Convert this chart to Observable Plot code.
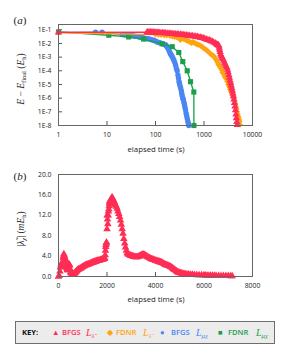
<!DOCTYPE html>
<html><head><meta charset="utf-8">
<script src="https://cdn.jsdelivr.net/npm/d3@7"></script>
<script src="https://cdn.jsdelivr.net/npm/@observablehq/plot@0.6"></script>
<style>
body{margin:0;background:#fff;}
#wrap{position:relative;width:293px;height:361px;overflow:hidden;font-family:"Open Sans",sans-serif;color:#222;}
.abs{position:absolute;white-space:nowrap;line-height:1;}
.m{font-family:"Liberation Serif",serif;font-style:italic;}
.r{font-family:"Liberation Serif",serif;}
sub{font-size:68%;vertical-align:-0.28em;line-height:0;}
.cen{transform:translate(-50%,-50%);}
.rot{transform:translate(-50%,-50%) rotate(-90deg);}
#legend{position:absolute;left:15px;top:321px;width:260px;height:23px;box-sizing:border-box;background:#ececec;border:1.5px solid #6e6e6e;}
#legend span{position:absolute;top:50%;transform:translateY(-50%);white-space:nowrap;line-height:1;}
.lt{font-size:7.6px;font-weight:600;}
.sym{font-size:7.5px;}
.lm{font-family:"Liberation Serif",serif;font-style:italic;font-size:10px;}
</style></head>
<body><div id="wrap"></div>
<script>
// ---------- Panel (a): E - E_final (Eh) vs elapsed time (s), log-log ----------
const xTicksA = [1, 10, 100, 1000, 10000];
const yTicksA = [1e-1, 1e-2, 1e-3, 1e-4, 1e-5, 1e-6, 1e-7, 1e-8];

// BFGS L_lambda (red triangles): [time, error]
const redPts = [[1,0.065],[67,0.066],[70,0.065],[73,0.066],[76,0.065],[80,0.066],[84,0.064],[88,0.065],[92,0.064],[97,0.063],[102,0.063],[108,0.062],[115,0.061],[122,0.06],[130,0.06],[140,0.059],[150,0.058],[162,0.057],[175,0.055],[190,0.054],[205,0.052],[220,0.051],[240,0.05],[260,0.048],[280,0.047],[300,0.046],[325,0.045],[350,0.044],[375,0.042],[400,0.041],[430,0.04],[465,0.038],[500,0.037],[540,0.036],[580,0.035],[625,0.033],[675,0.032],[725,0.031],[780,0.029],[840,0.027],[900,0.026],[970,0.024],[1040,0.022],[1120,0.02],[1200,0.018],[1290,0.017],[1380,0.015],[1480,0.014],[1590,0.012],[1700,0.0105],[1800,0.009],[1900,0.008],[1970,0.0074],[2020,0.0069],[2060,0.005],[2100,0.0035],[2150,0.0024],[2200,0.0016],[2280,0.0012],[2370,0.00093],[2450,0.00075],[2550,0.00055],[2650,0.0004],[2750,0.0003],[2850,0.00022],[2950,0.00017],[3050,0.00012],[3150,0.00008],[3250,0.00005],[3350,0.000032],[3450,0.00002],[3550,0.000013],[3650,0.0000085],[3750,0.0000055],[3850,0.0000035],[3950,0.0000022],[4050,0.0000014],[4150,8e-7],[4250,4.5e-7],[4350,2.5e-7],[4450,1.3e-7],[4550,6.5e-8],[4650,3.5e-8],[4750,1.8e-8],[4830,1.1e-8]];

// FDNR L_lambda (orange diamonds)
const orangePts = [[1,0.06],[100,0.045],[115,0.044],[130,0.042],[150,0.04],[170,0.038],[200,0.035],[225,0.033],[250,0.03],[275,0.028],[300,0.025],[327,0.018],[355,0.024],[380,0.021],[400,0.02],[430,0.017],[450,0.016],[480,0.015],[500,0.014],[530,0.012],[560,0.011],[590,0.013],[620,0.012],[660,0.01],[700,0.009],[740,0.0085],[780,0.008],[847,0.0069],[900,0.006],[950,0.005],[1000,0.0045],[1060,0.0038],[1110,0.0034],[1160,0.003],[1230,0.0025],[1300,0.002],[1370,0.0017],[1450,0.0015],[1520,0.0013],[1590,0.0012],[1670,0.0009],[1750,0.0007],[1830,0.00055],[1900,0.0004],[1980,0.0003],[2050,0.00025],[2120,0.0002],[2190,0.00017],[2300,0.00012],[2400,0.00008],[2520,0.00006],[2650,0.00004],[2800,0.000028],[3000,0.000017],[3150,0.00001],[3300,0.000007],[3450,0.0000045],[3600,0.0000032],[3750,0.0000022],[3900,0.0000016],[4000,0.0000013],[4120,0.000001],[4250,6.5e-7],[4400,4e-7],[4550,2.5e-7],[4700,1.6e-7],[4820,1e-7],[4950,7e-8],[5080,4.5e-8],[5200,3.4e-8],[5300,2.5e-8],[5400,2e-8],[5500,1.2e-8]];

// BFGS L_mu_chi (blue circles)
const bluePts = [[1,0.065],[5.8,0.066],[7.9,0.066],[20.5,0.045],[22,0.044],[24,0.042],[26,0.041],[28,0.04],[30,0.039],[33,0.037],[36,0.035],[40,0.033],[44,0.031],[48,0.028],[52,0.027],[57,0.025],[62,0.023],[68,0.022],[74,0.021],[79,0.02],[85,0.018],[92,0.017],[100,0.015],[108,0.013],[116,0.012],[125,0.011],[135,0.01],[145,0.009],[153,0.0085],[161,0.008],[168,0.0065],[175,0.0055],[182,0.0042],[190,0.003],[197,0.0022],[205,0.0017],[212,0.0014],[220,0.0011],[230,0.0008],[240,0.0006],[250,0.0004],[260,0.00026],[270,0.00015],[280,0.0001],[290,0.00005],[298,0.00003],[305,0.000017],[312,0.000012],[320,0.000008],[330,0.0000055],[340,0.0000035],[348,0.0000022],[355,0.0000015],[365,0.000001],[375,8e-7],[385,5e-7],[395,3.5e-7],[405,2.2e-7],[416,1.4e-7],[428,8e-8],[440,5e-8],[452,3.2e-8],[465,2e-8],[476,1.4e-8],[486,1e-8]];

// FDNR L_mu_chi (green squares)
const greenPts = [[1,0.07],[10.9,0.04],[28,0.03],[57,0.021],[137,0.0095],[221,0.0058],[302,0.0022],[365,0.00047],[451,0.0001],[527,0.000016],[617,0.0000028],[620,1e-8]];

// ---------- Panel (b): |lambda_chi| (mEh) vs elapsed time (s) ----------
const xTicksB = [0, 2000, 4000, 6000, 8000];
const yTicksB = [0, 4, 8, 12, 16, 20];
const lamPts = [[0,0],[30,0.2],[60,1.0],[82,1.8],[100,2.2],[120,2.6],[140,2.0],[160,2.4],[190,3.6],[205,4.0],[220,4.4],[240,4.1],[255,3.9],[270,3.5],[290,3.1],[310,2.5],[330,2.0],[345,1.7],[357,1.5],[375,1.3],[390,1.2],[405,1.8],[426,2.5],[445,2.3],[460,2.2],[478,1.5],[495,0.8],[520,0.7],[540,0.6],[560,0.55],[580,0.5],[605,0.45],[632,0.4],[660,0.55],[680,0.7],[700,0.8],[720,0.9],[745,1.05],[770,1.2],[795,1.3],[820,1.4],[850,1.45],[880,1.5],[910,1.6],[940,1.7],[970,1.8],[1000,1.9],[1045,2.0],[1070,2.1],[1100,2.2],[1130,2.25],[1160,2.3],[1190,2.35],[1220,2.4],[1250,2.45],[1280,2.5],[1320,2.6],[1350,2.65],[1380,2.7],[1410,2.75],[1440,2.8],[1470,2.85],[1500,2.9],[1530,2.95],[1560,3.0],[1595,3.1],[1630,3.05],[1663,3.1],[1690,3.15],[1720,3.2],[1750,3.25],[1780,3.3],[1810,3.3],[1830,3.35],[1850,3.4],[1870,3.45],[1890,3.5],[1910,3.6],[1925,4.2],[1938,5.1],[1950,5.8],[1960,6.2],[1970,6.5],[1980,6.7],[2000,9.3],[2007,12.0],[2020,11.2],[2034,10.3],[2050,12.0],[2062,12.8],[2075,13.2],[2090,13.8],[2100,14.3],[2110,14.6],[2120,14.8],[2130,14.9],[2144,14.9],[2157,15.0],[2170,15.1],[2180,15.2],[2190,15.3],[2200,15.4],[2214,15.5],[2227,15.3],[2240,15.2],[2255,15.0],[2270,14.9],[2285,14.8],[2300,14.6],[2325,14.3],[2350,14.0],[2385,13.7],[2419,13.3],[2450,12.8],[2487,12.3],[2520,11.7],[2557,11.0],[2590,10.2],[2625,9.3],[2660,8.4],[2694,7.4],[2730,6.5],[2763,5.7],[2800,5.1],[2832,4.6],[2865,4.4],[2900,4.3],[2935,4.2],[2970,4.1],[3005,4.05],[3038,4.0],[3070,3.95],[3100,3.9],[3140,3.85],[3180,3.8],[3210,3.8],[3244,3.8],[3280,3.85],[3313,3.9],[3345,4.0],[3380,4.1],[3415,4.2],[3450,4.3],[3485,4.3],[3519,4.3],[3550,4.25],[3588,4.1],[3620,4.0],[3650,3.9],[3690,3.8],[3725,3.7],[3760,3.6],[3800,3.5],[3835,3.4],[3870,3.35],[3900,3.3],[3931,3.25],[3965,3.2],[4000,3.1],[4040,3.05],[4080,3.0],[4115,2.95],[4150,2.9],[4180,2.85],[4206,2.8],[4240,2.75],[4276,2.7],[4310,2.6],[4350,2.5],[4385,2.4],[4420,2.3],[4450,2.25],[4480,2.2],[4515,2.15],[4550,2.1],[4585,2.0],[4619,1.9],[4660,1.8],[4700,1.65],[4730,1.5],[4760,1.4],[4790,1.3],[4825,1.2],[4860,1.05],[4900,0.9],[4930,0.8],[4960,0.75],[5000,0.7],[5031,0.65],[5070,0.6],[5100,0.55],[5150,0.5],[5200,0.47],[5250,0.45],[5300,0.42],[5370,0.4],[5443,0.38],[5520,0.35],[5600,0.33],[5700,0.3],[5800,0.28],[5900,0.26],[6000,0.25],[6070,0.22],[6130,0.2],[6200,0.2],[6268,0.18],[6350,0.17],[6430,0.16],[6500,0.15],[6600,0.14],[6700,0.13],[6800,0.12],[6900,0.12],[7000,0.11],[7093,0.1],[7162,0.1]];

const RED = "#ff2d55", ORANGE = "#ffa30f", BLUE = "#4a86f4", GREEN = "#1a9f4a";

const rows = P => P.map(([t, v]) => ({t, v}));
const red = rows(redPts), orange = rows(orangePts), blue = rows(bluePts), green = rows(greenPts);
const lam = rows(lamPts);

const font = {fontFamily: "'Open Sans', sans-serif", fontSize: "6.8px", color: "#222", background: "transparent", overflow: "visible"};

const chartA = Plot.plot({
  width: 293, height: 160,
  marginTop: 24, marginRight: 41, marginBottom: 35, marginLeft: 58,
  style: font,
  x: {type: "log", domain: [1, 10000], ticks: xTicksA, tickFormat: d => String(d), tickSize: 0, tickPadding: 7, label: null},
  y: {type: "log", domain: [1e-8, 0.244], ticks: yTicksA, tickFormat: d => "1E" + Math.round(Math.log10(d)), tickSize: 0, tickPadding: 7, label: null},
  marks: [
    Plot.tickX(xTicksA, {x: d => d, insetTop: 97, stroke: "#555"}),
    Plot.tickY(yTicksA, {y: d => d, insetRight: 190, stroke: "#555"}),
    Plot.line(blue, {x: "t", y: "v", stroke: BLUE, strokeWidth: 1.3}),
    Plot.dot(blue.slice(1), {x: "t", y: "v", symbol: "circle", fill: BLUE, r: 2.7}),
    Plot.line(green, {x: "t", y: "v", stroke: GREEN, strokeWidth: 1.3}),
    Plot.dot(green, {x: "t", y: "v", symbol: "square", fill: GREEN, r: 2.9}),
    Plot.line(orange, {x: "t", y: "v", stroke: ORANGE, strokeWidth: 1.3}),
    Plot.dot(orange, {x: "t", y: "v", symbol: "diamond2", fill: ORANGE, r: 2.7}),
    Plot.line(red, {x: "t", y: "v", stroke: RED, strokeWidth: 1.3}),
    Plot.dot(red, {x: "t", y: "v", symbol: "triangle", fill: RED, r: 2.7}),
    Plot.frame({stroke: "#666", strokeWidth: 1})
  ]
});

const chartB = Plot.plot({
  width: 293, height: 150,
  marginTop: 14, marginRight: 41, marginBottom: 34, marginLeft: 58,
  style: font,
  x: {domain: [0, 8000], ticks: xTicksB, tickFormat: d => String(d), tickSize: 0, tickPadding: 7, label: null},
  y: {domain: [0, 20], ticks: yTicksB, tickFormat: d => d.toFixed(1), tickSize: 0, tickPadding: 7, label: null},
  marks: [
    Plot.tickX(xTicksB, {x: d => d, insetTop: 98, stroke: "#555"}),
    Plot.dot(lam, {x: "t", y: "v", symbol: "triangle", fill: RED, r: 2.8}),
    Plot.frame({stroke: "#666", strokeWidth: 1})
  ]
});

const wrap = document.getElementById("wrap");
chartA.style.position = "absolute"; chartA.style.left = "0px"; chartA.style.top = "0px";
chartB.style.position = "absolute"; chartB.style.left = "0px"; chartB.style.top = "160px";
wrap.appendChild(chartA);
wrap.appendChild(chartB);

wrap.insertAdjacentHTML("beforeend", `
<div class="abs cen" style="left:20px;top:20px;font-size:11px;"><span class="r">(</span><span class="m">a</span><span class="r">)</span></div>
<div class="abs cen" style="left:20px;top:176px;font-size:11px;"><span class="r">(</span><span class="m">b</span><span class="r">)</span></div>
<div class="abs rot r" style="left:22px;top:79px;font-size:9.5px;"><i>E</i> − <i>E</i><sub>final</sub> (<i>E</i><sub>h</sub>)</div>
<div class="abs rot r" style="left:22px;top:229px;font-size:9.5px;">|<i>λ̃</i><sub><i>χ</i></sub>| (<i>mE</i><sub>h</sub>)</div>
<div class="abs cen" style="left:156px;top:150px;font-size:7.8px;">elapsed time (s)</div>
<div class="abs cen" style="left:156px;top:300px;font-size:7.8px;">elapsed time (s)</div>
<div id="legend">
  <span class="lt" style="left:6px;color:#111;font-weight:700;">KEY:</span>
  <span class="sym" style="left:36px;color:${RED};">▲</span>
  <span class="lt" style="left:46px;color:${RED};">BFGS</span>
  <span class="lm" style="left:70px;color:${RED};">L<sub>λ̃</sub></span>
  <span class="sym" style="left:91px;color:${ORANGE};">◆</span>
  <span class="lt" style="left:100px;color:${ORANGE};">FDNR</span>
  <span class="lm" style="left:127px;color:${ORANGE};">L<sub>λ̃</sub></span>
  <span class="sym" style="left:144px;color:${BLUE};">●</span>
  <span class="lt" style="left:155px;color:${BLUE};">BFGS</span>
  <span class="lm" style="left:180px;color:${BLUE};">L<sub>μχ</sub></span>
  <span class="sym" style="left:202px;color:${GREEN};">■</span>
  <span class="lt" style="left:212px;color:${GREEN};">FDNR</span>
  <span class="lm" style="left:240px;color:${GREEN};">L<sub>μχ</sub></span>
</div>`);
</script>
</body></html>
